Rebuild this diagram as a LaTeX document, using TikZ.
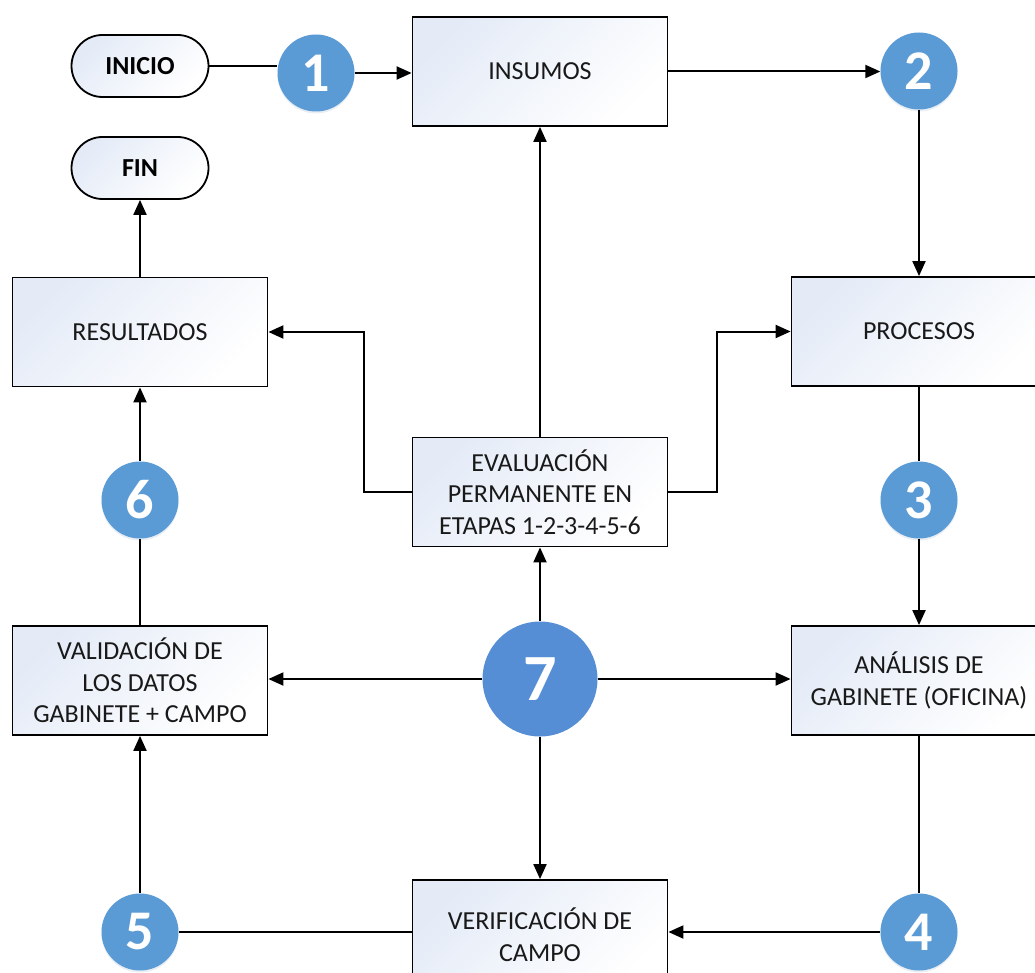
\documentclass[tikz,border=0pt]{standalone}
\usepackage{fontspec}
\setmainfont{Carlito}
\usetikzlibrary{arrows.meta,backgrounds,shadows}
\definecolor{cblue}{HTML}{5B9BD5}
\definecolor{cblueb}{HTML}{558ED5}
\definecolor{boxtop}{HTML}{E4EBF7}
\begin{document}
\begin{tikzpicture}[x=1pt,y=-1pt,
  procbox/.style={draw=black, line width=1.8pt, shading=axis, top color=boxtop, bottom color=white, shading angle=45,
    minimum width=255pt, minimum height=109pt, align=center, inner sep=0pt,
    font=\fontsize{26}{31.5}\selectfont, text=black!90},
  term/.style={draw=black, line width=1.8pt, shading=axis, top color=boxtop, bottom color=white, shading angle=45,
    rounded corners=31pt, minimum width=137pt, minimum height=62pt, inner sep=0pt,
    font=\fontsize{26}{30}\selectfont\bfseries},
  num/.style={circle, fill=cblue, minimum size=77pt, inner sep=0pt, text=white,
    font=\fontsize{56}{56}\selectfont\bfseries,
    drop shadow={shadow xshift=0pt, shadow yshift=-2pt, opacity=0.15, fill=cblue!60!gray}},
  conn/.style={line width=2pt, draw=black},
  arr/.style={conn, -{Triangle[length=15pt, width=13pt]}}
]
\clip (0,0) rectangle (1035,973);
\useasboundingbox (0,0) rectangle (1035,973);

\node[term] (ini) at (140,66) {INICIO};
\node[term] (fin) at (140,168) {FIN};
\node[num] (c1) at (316,73) {1};
\node[procbox] (ins) at (540,71.5) {INSUMOS};
\node[num] (c2) at (919,71) {2};
\node[procbox] (proc) at (919,331.5) {PROCESOS};
\node[num] (c3) at (919,500) {3};
\node[procbox] (ana) at (919,680.5) {ANÁLISIS DE\\GABINETE (OFICINA)};
\node[num] (c4) at (919,932) {4};
\node[procbox] (ver) at (540,934.5) {VERIFICACIÓN DE\\CAMPO};
\node[num] (c5) at (140,932) {5};
\node[procbox] (val) at (140,680.5) {VALIDACIÓN DE\\LOS DATOS\\GABINETE + CAMPO};
\node[num] (c6) at (140,500) {6};
\node[procbox] (res) at (140,332) {RESULTADOS};
\node[procbox] (eva) at (540,492) {EVALUACIÓN\\PERMANENTE EN\\ETAPAS 1-2-3-4-5-6};
\node[circle, fill=cblueb, minimum size=115pt, inner sep=0pt, text=white,
      font=\fontsize{66}{66}\selectfont\bfseries] (c7) at (540,679) {7};

\begin{scope}[on background layer]
\draw[conn] (ini.east) -- (c1.west |- ini.east);
\draw[conn] (proc.south) -- (c3.north);
\draw[conn] (ana.south) -- (c4.north);
\draw[conn] (ver.west |- c5.east) -- (c5.east);
\draw[conn] (val.north) -- (c6.south);
\end{scope}

\draw[arr] (c1.east) -- (ins.west |- c1.east);
\draw[arr] (ins.east) -- (c2.west |- ins.east);
\draw[arr] (c2.south) -- (proc.north);
\draw[arr] (c3.south) -- (ana.north);
\draw[arr] (c4.west) -- (ver.east |- c4.west);
\draw[arr] (c5.north) -- (val.south);
\draw[arr] (c6.north) -- (res.south);
\draw[arr] (res.north) -- (fin.south);
\draw[arr] (eva.north) -- (ins.south);
\draw[arr] (eva.west) -- ++(-48,0) |- (res.east);
\draw[arr] (eva.east) -- ++(49,0) |- (proc.west);
\draw[arr] (c7.north) -- (eva.south);
\draw[arr] (c7.west) -- (val.east |- c7.west);
\draw[arr] (c7.east) -- (ana.west |- c7.east);
\draw[arr] (c7.south) -- (ver.north);
\end{tikzpicture}
\end{document}
